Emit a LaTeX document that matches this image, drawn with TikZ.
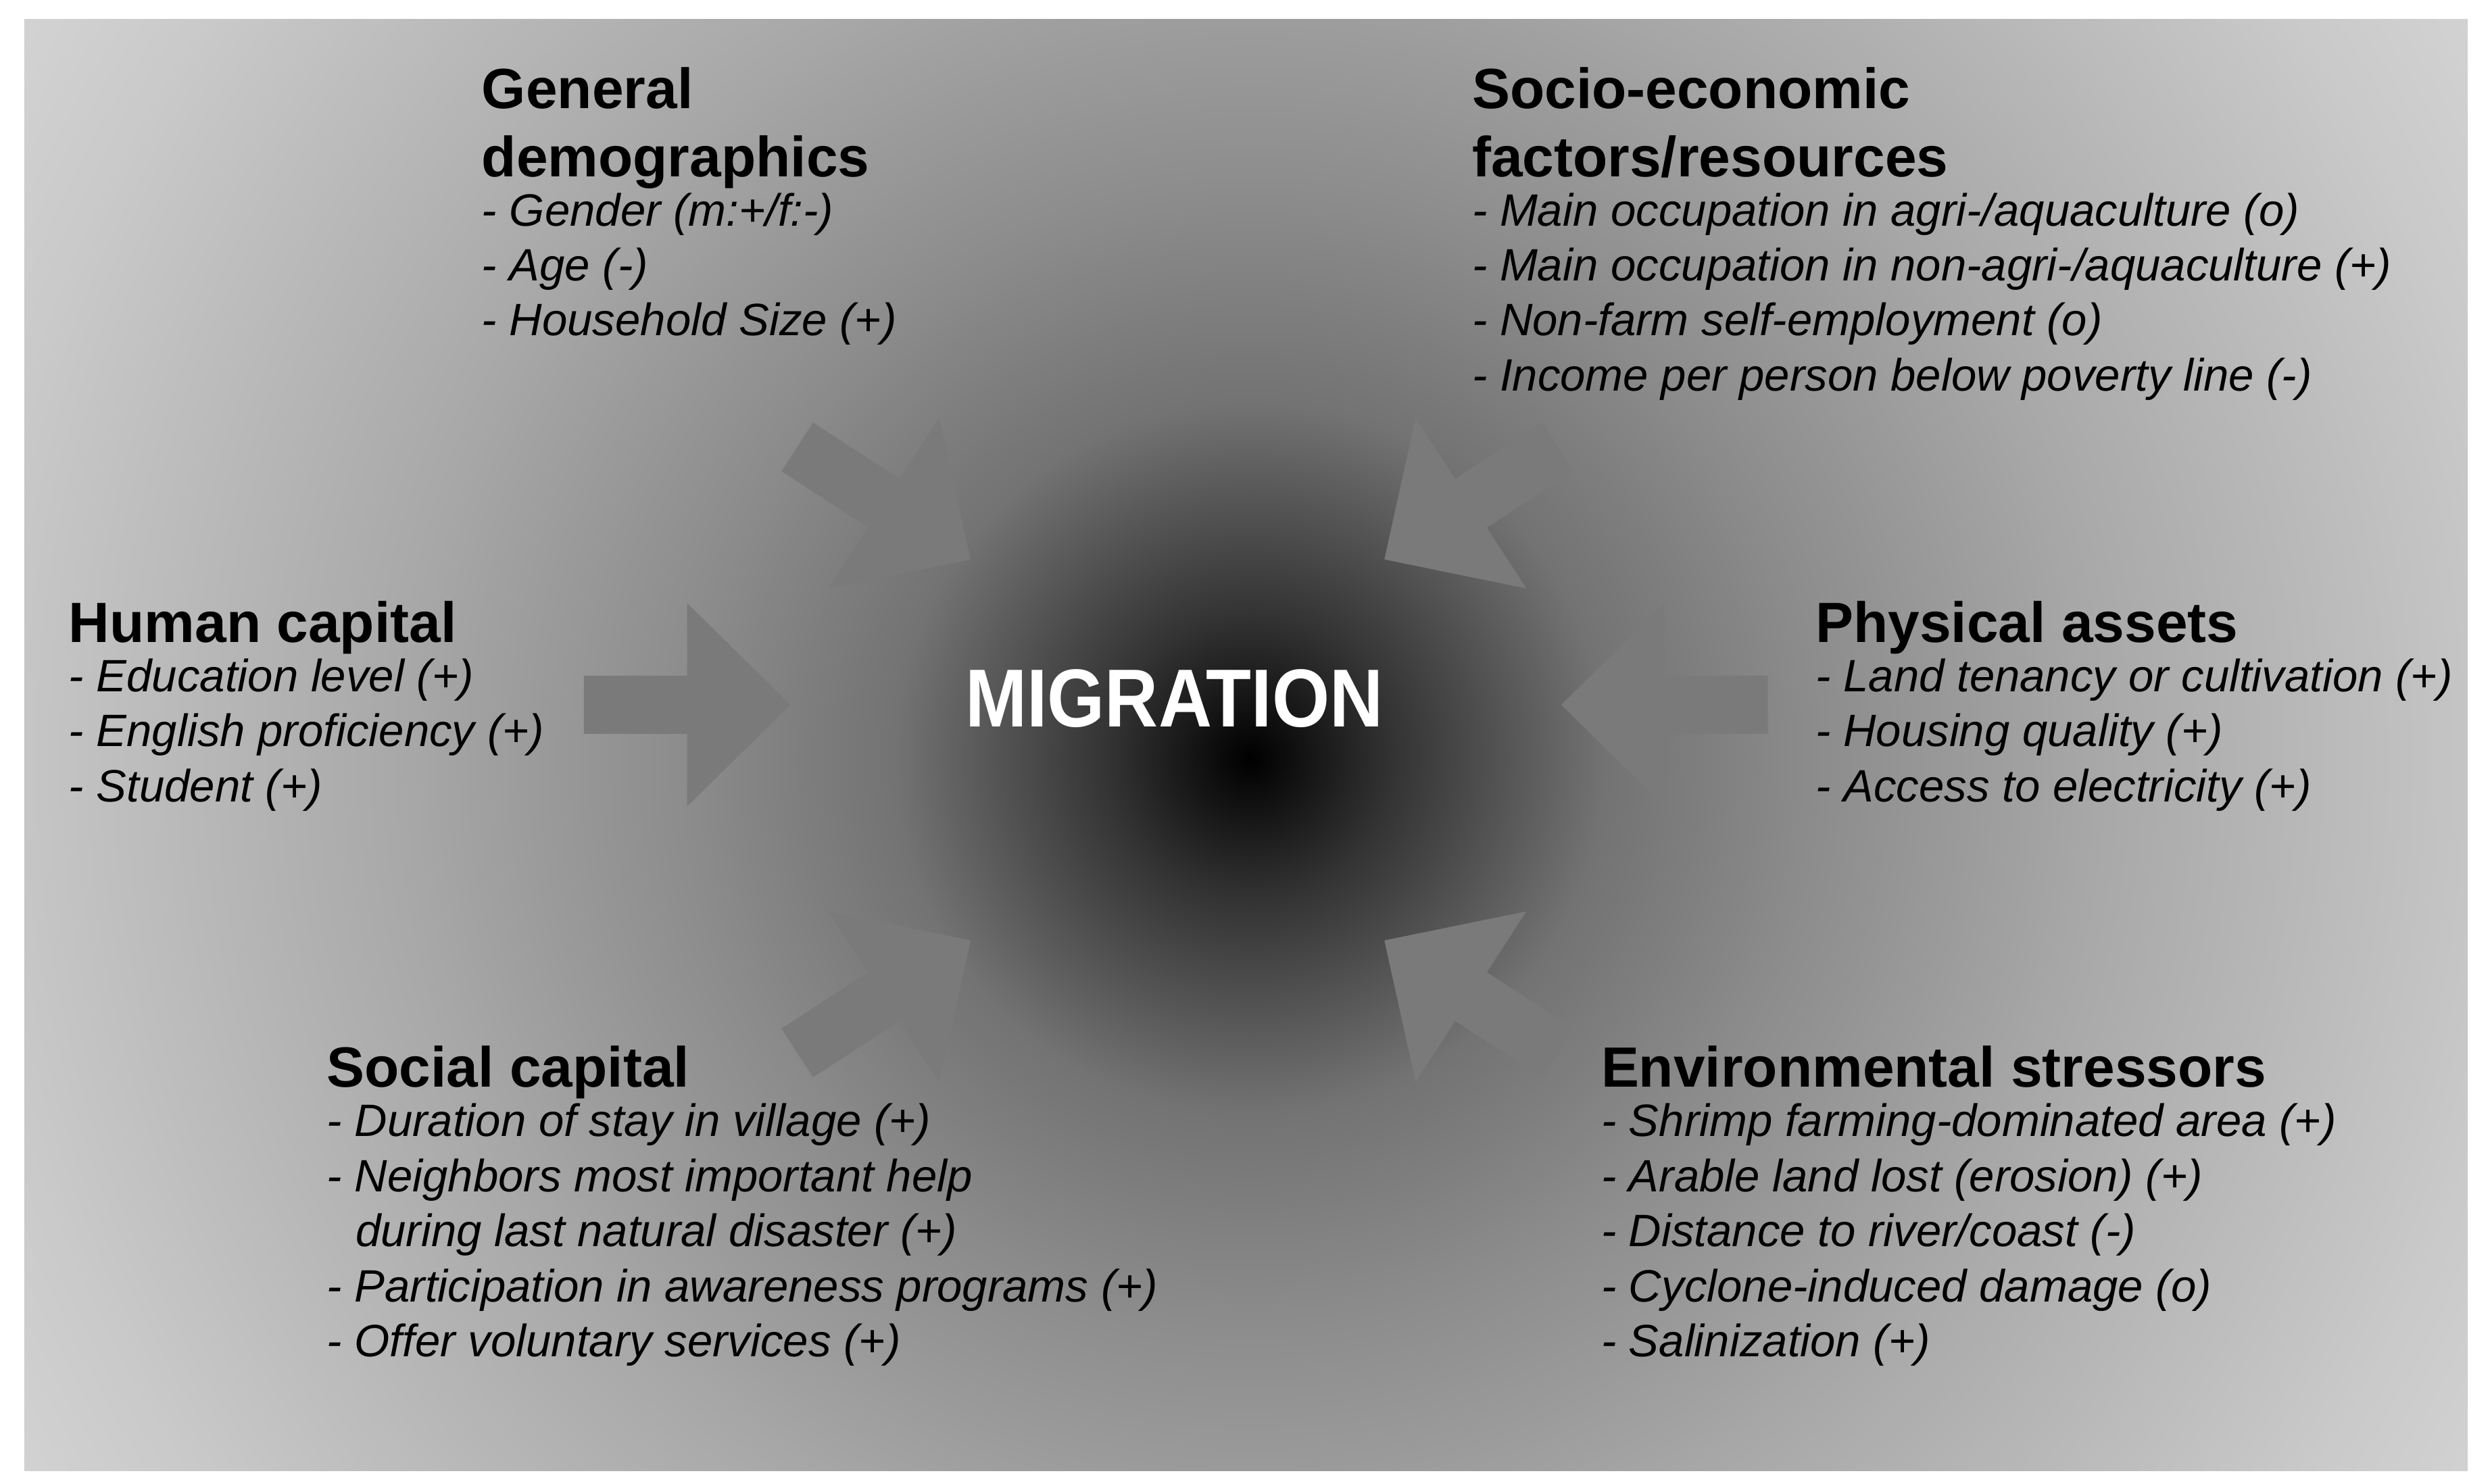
\documentclass[tikz,border=0pt]{standalone}
\usepackage{fontspec}
\setmainfont{Liberation Sans}
\pgfdeclareradialshading{migshade}{\pgfpoint{0bp}{0bp}}{%
  color(0bp)=(black); color(2bp)=(black!80); color(5bp)=(black!55);
  color(8bp)=(black!45); color(12bp)=(black!34); color(18bp)=(black!21);
  color(24bp)=(black!11); color(36bp)=(black!4); color(50bp)=(white)}
\newcommand\facthead{\fontsize{10}{12}\selectfont\bfseries\upshape}
\newcommand\pusharrow[2]{%
  \fill[pushfill, shift={(#1)}, rotate=#2]
    (-0.64cm,-0.18cm) -- (0cm,-0.18cm) -- (0cm,-0.63cm) -- (0.64cm,0cm)
    -- (0cm,0.63cm) -- (0cm,0.18cm) -- (-0.64cm,0.18cm) -- cycle;}
\tikzset{
  factor/.style={anchor=north west, inner sep=0pt, align=left,
    font=\fontsize{8}{9.7}\selectfont\itshape},
  pushfill/.style={fill=black!52},
}
\begin{document}
\begin{tikzpicture}[x=0.01cm, y=-0.01cm]
  \useasboundingbox (0,0) rectangle (1545,920);
  \fill[white] (0,0) rectangle (1545,920);
  \begin{scope}
    \clip (15,12) rectangle (1530,912);
    \shade[shading=migshade] (775,470) circle (11cm);
  \end{scope}
  % arrows
  \coordinate (aL) at (426,437);
  \coordinate (aR) at (1032,437);
  \coordinate (aTL) at (548,312);
  \coordinate (aTR) at (912,312);
  \coordinate (aBL) at (548,618);
  \coordinate (aBR) at (912,618);
  \pusharrow{aL}{0}
  \pusharrow{aR}{180}
  \pusharrow{aTL}{-33}
  \pusharrow{aTR}{213}
  \pusharrow{aBL}{33}
  \pusharrow{aBR}{147}
  % centre
  \node[text=white, xscale=0.9, font=\fontsize{14.5}{16}\selectfont\bfseries] (mig) at (728,433) {MIGRATION};
  % factors
  \node[factor] (gen) at (298,41) {{\facthead General}\\[2.3pt]{\facthead demographics}\\[-1pt]
    - Gender (m:+/f:-)\\ - Age (-)\\ - Household Size (+)};
  \node[factor] (soc) at (912,41) {{\facthead Socio-economic}\\[2.3pt]{\facthead factors/resources}\\[-1pt]
    - Main occupation in agri-/aquaculture (o)\\ - Main occupation in non-agri-/aquaculture (+)\\
    - Non-farm self-employment (o)\\ - Income per person below poverty line (-)};
  \node[factor] (hum) at (42,372) {{\facthead Human capital}\\[-1pt]
    - Education level (+)\\ - English proficiency (+)\\ - Student (+)};
  \node[factor] (phy) at (1125,372) {{\facthead Physical assets}\\[-1pt]
    - Land tenancy or cultivation (+)\\ - Housing quality (+)\\ - Access to electricity (+)};
  \node[factor] (scl) at (202,648) {{\facthead Social capital}\\[-1pt]
    - Duration of stay in village (+)\\ - Neighbors most important help\\
    \hspace*{1.2ex}during last natural disaster (+)\\ - Participation in awareness programs (+)\\
    - Offer voluntary services (+)};
  \node[factor] (env) at (992,648) {{\facthead Environmental stressors}\\[-1pt]
    - Shrimp farming-dominated area (+)\\ - Arable land lost (erosion) (+)\\
    - Distance to river/coast (-)\\ - Cyclone-induced damage (o)\\ - Salinization (+)};
\end{tikzpicture}
\end{document}
